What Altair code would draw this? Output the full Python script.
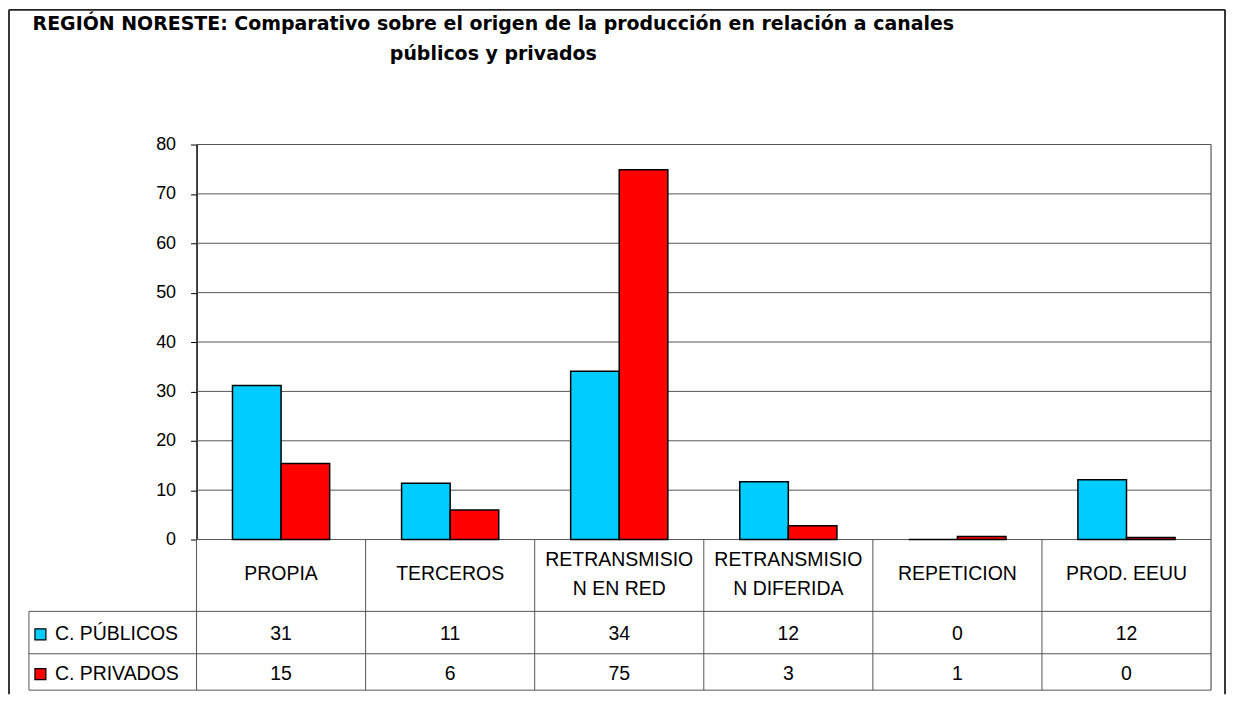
import altair as alt
import pandas as pd

# ---------------- data ----------------
categories = ["PROPIA", "TERCEROS", "RETRANSMISION EN RED",
              "RETRANSMISION DIFERIDA", "REPETICION", "PROD. EEUU"]
category_labels = ["PROPIA", "TERCEROS", "RETRANSMISIO\nN EN RED",
                   "RETRANSMISIO\nN DIFERIDA", "REPETICION", "PROD. EEUU"]
series_names = ["C. PÚBLICOS", "C. PRIVADOS"]
publicos = [31.2, 11.4, 34.1, 11.7, 0.0, 12.1]
privados = [15.4, 6.0, 74.9, 2.8, 0.6, 0.4]
y_ticks = [0, 10, 20, 30, 40, 50, 60, 70, 80]
series_colors = ["#00CCFF", "#FF0000"]
title_lines = ["REGIÓN NORESTE: Comparativo sobre el origen de la producción en relación a canales",
               "públicos y privados"]

# ---------------- layout (pixels inside the framed area) ----------------
W, H = 1219, 686
X0, X1 = 188, 1205          # category columns / plot area
Y0, Y80 = 531, 135          # value axis: 0 and 80
TBL_TOP, TBL_MID, TBL_BOT = 603, 645.5, 682
LEG_X = 20
HEADER_Y = 566
LINE_H = 29.5
ROW_Y = [626, 666]
FONT = "Liberation Sans"
TXT = 19.5
GRID = "#555555"

long_rows = []
for i, c in enumerate(categories):
    long_rows.append({"cat": c, "series": series_names[0], "value": publicos[i]})
    long_rows.append({"cat": c, "series": series_names[1], "value": privados[i]})
df = pd.DataFrame(long_rows)
cat_df = pd.DataFrame({"cat": categories, "label": category_labels})
ser_df = pd.DataFrame({"series": series_names})
tick_df = pd.DataFrame({"tick": y_ticks})
one = pd.DataFrame({"k": [0]})
title_df = pd.DataFrame({"t": ["\n".join(title_lines)]})

x_scale = alt.Scale(domain=categories, range=[X0, X1], paddingInner=0, paddingOuter=0)
y_scale = alt.Scale(domain=[0, 80], range=[Y0, Y80], nice=False)
row_scale = alt.Scale(domain=series_names, range=ROW_Y, padding=0)
color_scale = alt.Scale(domain=series_names, range=series_colors)

X = lambda **kw: alt.X("cat:N", scale=x_scale, axis=None, sort=categories, **kw)

grid = alt.Chart(tick_df).mark_rule(color=GRID, strokeWidth=1).encode(
    y=alt.Y("tick:Q", scale=y_scale, axis=None),
    x=alt.value(X0), x2=alt.value(X1))

y_axis = alt.Axis(values=y_ticks, offset=-X0, tickSize=6, tickColor="black",
                  domainColor="black", domainWidth=1.5, labelFontSize=18,
                  labelFont=FONT, labelColor="black", labelPadding=15,
                  grid=False, title=None)

bars = alt.Chart(df).mark_bar(stroke="black", strokeWidth=1.5).encode(
    x=X(),
    xOffset=alt.XOffset("series:N", sort=series_names,
                        scale=alt.Scale(domain=series_names, paddingInner=0, paddingOuter=0.74)),
    y=alt.Y("value:Q", scale=y_scale, axis=y_axis),
    color=alt.Color("series:N", scale=color_scale, legend=None))

# table lines
vlines = alt.Chart(cat_df).mark_rule(color=GRID, strokeWidth=1).encode(
    x=X(bandPosition=0), y=alt.value(Y0), y2=alt.value(TBL_BOT))
right_edge = alt.Chart(one).mark_rule(color=GRID, strokeWidth=1.2).encode(
    x=alt.value(X1), y=alt.value(Y80), y2=alt.value(TBL_BOT))
left_edge = alt.Chart(one).mark_rule(color=GRID, strokeWidth=1).encode(
    x=alt.value(LEG_X), y=alt.value(TBL_TOP), y2=alt.value(TBL_BOT))
hlines = [alt.Chart(one).mark_rule(color=GRID, strokeWidth=1).encode(
    x=alt.value(LEG_X), x2=alt.value(X1), y=alt.value(v)) for v in (TBL_TOP, TBL_MID, TBL_BOT)]

# header row: one-line and two-line labels, each block centred in the row
header1 = alt.Chart(cat_df).transform_filter(
    "indexof(datum.label, '\\n') < 0").mark_text(
    fontSize=TXT, font=FONT, baseline="middle", color="black").encode(
    x=X(), y=alt.value(HEADER_Y), text="label:N")
header2 = alt.Chart(cat_df).transform_filter(
    "indexof(datum.label, '\\n') >= 0").mark_text(
    lineBreak="\n", lineHeight=LINE_H, fontSize=TXT, font=FONT, baseline="middle",
    color="black").encode(
    x=X(), y=alt.value(HEADER_Y - LINE_H / 2), text="label:N")

values = alt.Chart(df).mark_text(fontSize=TXT, font=FONT, baseline="middle", color="black").encode(
    x=X(), y=alt.Y("series:N", scale=row_scale, axis=None),
    text=alt.Text("value:Q", format=".0f"))

leg_sq = alt.Chart(ser_df).mark_point(shape="square", filled=True, size=121, stroke="black",
                                      strokeWidth=1.2, opacity=1).encode(
    x=alt.value(31.5), y=alt.Y("series:N", scale=row_scale, axis=None),
    fill=alt.Fill("series:N", scale=color_scale, legend=None))
leg_tx = alt.Chart(ser_df).mark_text(align="left", baseline="middle", fontSize=TXT,
                                     font=FONT, color="black").encode(
    x=alt.value(46), y=alt.Y("series:N", scale=row_scale, axis=None), text="series:N")

title = alt.Chart(title_df).mark_text(
    lineBreak="\n", lineHeight=30, align="center", baseline="alphabetic",
    font="DejaVu Sans", fontSize=19, fontWeight="bold", color="black").encode(
    x=alt.value(485.5), y=alt.value(20), text="t:N")

# outer frame (open at bottom, like the cut-off original)
frame = [
    alt.Chart(one).mark_rule(color="#222222", strokeWidth=1.8).encode(
        x=alt.value(0), y=alt.value(0), y2=alt.value(H)),
    alt.Chart(one).mark_rule(color="#222222", strokeWidth=1.8).encode(
        x=alt.value(W), y=alt.value(0), y2=alt.value(H)),
    alt.Chart(one).mark_rule(color="#222222", strokeWidth=1.8).encode(
        x=alt.value(0), x2=alt.value(W), y=alt.value(0)),
]

chart = alt.layer(
    grid, *hlines, vlines, right_edge, left_edge, bars, header1, header2, values,
    leg_sq, leg_tx, title, *frame
).resolve_scale(y="independent").properties(
    width=W, height=H,
    autosize=alt.AutoSizeParams(type="none"),
    padding={"left": 1, "top": 1, "right": 1, "bottom": 1},
).configure_view(stroke=None)

chart.save("out.html", embed_options={"renderer": "svg", "actions": False})
